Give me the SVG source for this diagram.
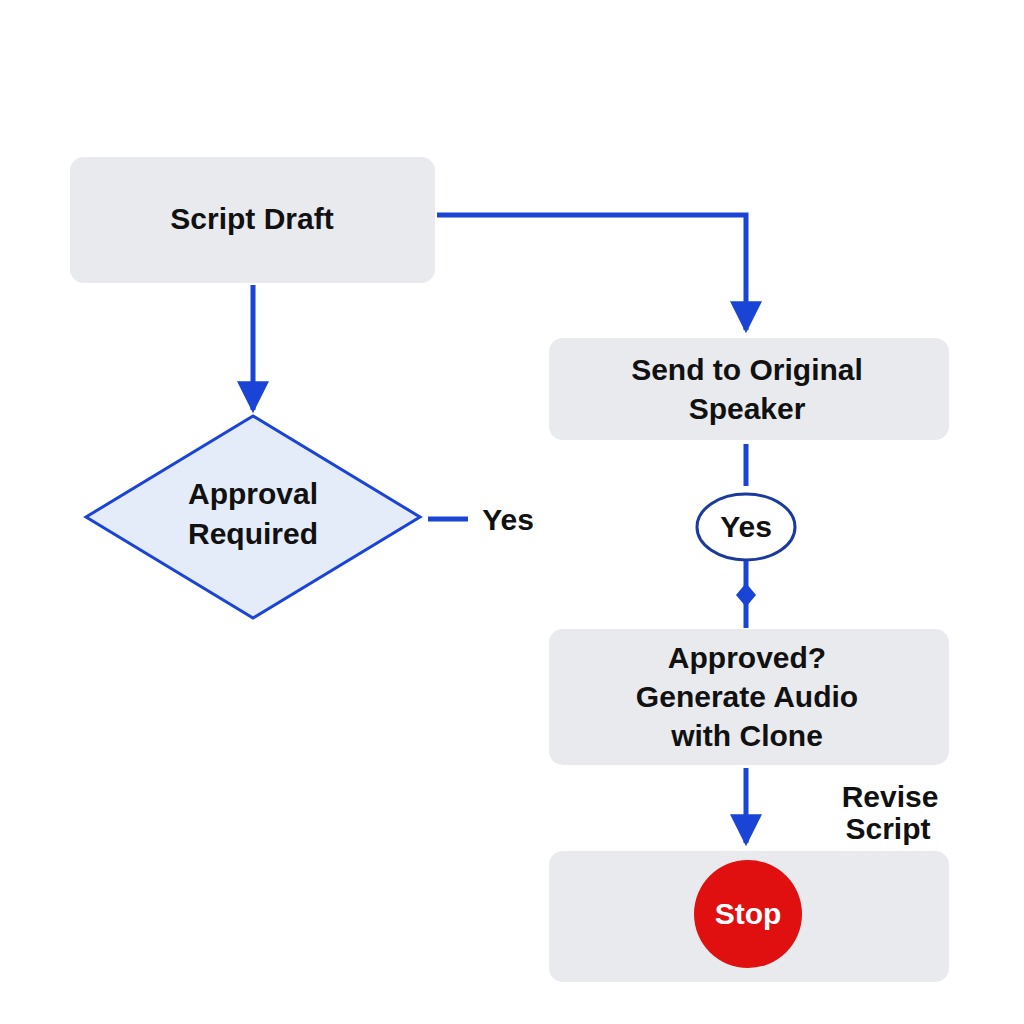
<svg xmlns="http://www.w3.org/2000/svg" width="1024" height="1024" viewBox="0 0 1024 1024">
<style>
.box{fill:#e9eaee}
.t{font-family:"Liberation Sans",Arial,sans-serif;font-size:30px;font-weight:bold;fill:#111;text-anchor:middle}
.ln{stroke:#1a44d6;stroke-width:5;fill:none}
</style>
<defs>
<marker id="a" viewBox="0 0 10 10" refX="9" refY="5" markerWidth="34" markerHeight="32" markerUnits="userSpaceOnUse" orient="auto"><path d="M0,0 L10,5 L0,10 z" fill="#1a44d6"/></marker></defs>
<rect width="1024" height="1024" fill="#fff"/>
<g id="n1"><rect class="box" x="70" y="157" width="365" height="126" rx="14"/><text class="t" x="252" y="229">Script Draft</text></g>
<g id="n2"><path d="M253,416 L420,517 L253,618 L86,517 z" fill="#e4ecfa" stroke="#1a44d6" stroke-width="3"/><text class="t" x="253" y="504">Approval</text><text class="t" x="253" y="544">Required</text></g>
<g id="n3"><rect class="box" x="549" y="338" width="400" height="102" rx="14"/><text class="t" x="747" y="380">Send to Original</text><text class="t" x="747" y="419">Speaker</text></g>
<g id="n4"><ellipse cx="746" cy="527" rx="49" ry="33" fill="#fff" stroke="#1a3a9e" stroke-width="3"/><text class="t" x="746" y="537">Yes</text></g>
<g id="n5"><rect class="box" x="549" y="629" width="400" height="136" rx="14"/><text class="t" x="747" y="668">Approved?</text><text class="t" x="747" y="707">Generate Audio</text><text class="t" x="747" y="746">with Clone</text></g>
<g id="n6"><rect class="box" x="549" y="851" width="400" height="131" rx="14"/><circle cx="748" cy="914" r="54" fill="#e01010"/><text class="t" x="748" y="924" style="fill:#fff">Stop</text></g>
<text class="t" x="508" y="530">Yes</text>
<text class="t" x="890" y="807">Revise</text>
<text class="t" x="888" y="839">Script</text>
<g id="edges">
<path class="ln" d="M253,285 V410" marker-end="url(#a)"/>
<path class="ln" d="M437,215 H746 V330" marker-end="url(#a)"/>
<path class="ln" d="M428,519 H468"/>
<path class="ln" d="M746,444 V486"/>
<path class="ln" d="M746,561 V628"/>
<path d="M746,583 L756,595 L746,607 L736,595 z" fill="#1a44d6"/>
<path class="ln" d="M746,768 V843" marker-end="url(#a)"/>
</g>
</svg>
